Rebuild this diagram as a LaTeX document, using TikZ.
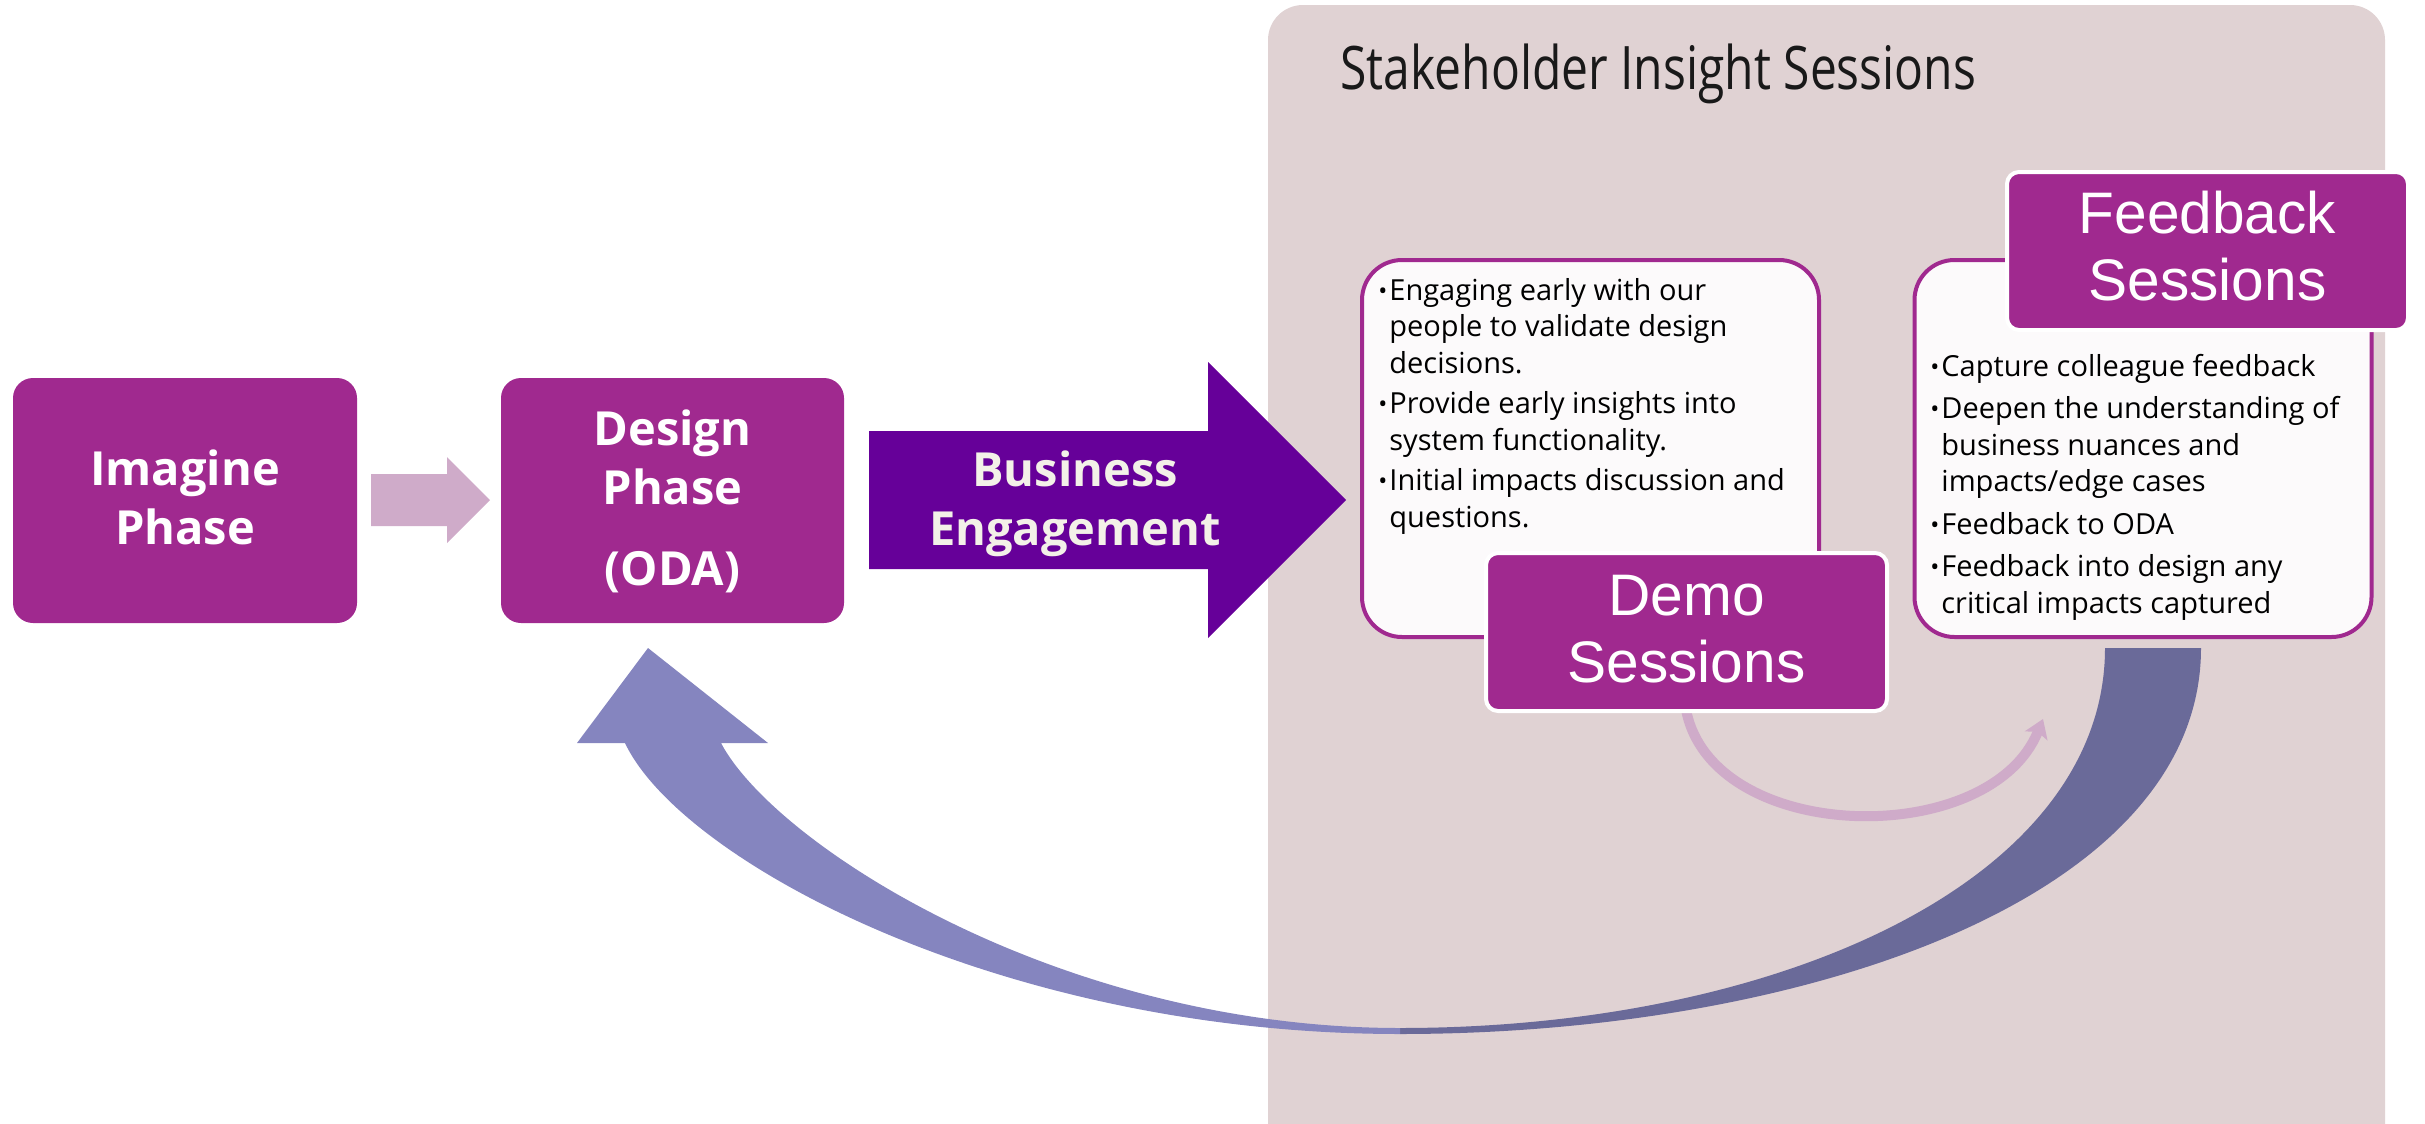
\documentclass[tikz,border=0pt]{standalone}
\usepackage{fontspec}
\setmainfont{Open Sans}
\newfontfamily\labelfont{Liberation Sans}
\newfontfamily\titlefont[FakeStretch=0.8]{Open Sans}
\usetikzlibrary{arrows.meta}

\definecolor{panelgrey}{HTML}{E0D2D3}
\definecolor{phasemagenta}{HTML}{A0298F}
\definecolor{engagepurple}{HTML}{660099}
\definecolor{softpink}{HTML}{CFABC9}
\definecolor{loopleft}{HTML}{8585BF}
\definecolor{loopright}{HTML}{6A6A99}
\definecolor{cardfill}{HTML}{FCFAFB}
\definecolor{offwhite}{HTML}{F3F1E8}

\newcommand{\bulletmark}{\makebox[5.5pt][l]{\raisebox{0.4pt}{\fontsize{12}{12}\selectfont •}}}
\newcommand{\hangin}{\hspace*{5.5pt}}

\begin{document}
\begin{tikzpicture}[x=0.5pt,y=-0.5pt,
  phasebox/.style={fill=phasemagenta, rounded corners=10pt, minimum height=122.5pt, inner sep=0pt},
  phasetext/.style={text=white, font=\fontsize{23.5}{29.5}\selectfont\bfseries, align=center, inner sep=0pt},
  card/.style={fill=cardfill, draw=phasemagenta, line width=2pt, rounded corners=20pt, minimum width=228.5pt, minimum height=188.5pt, inner sep=0pt},
  sessionbox/.style={fill=phasemagenta, draw=white, line width=2pt, rounded corners=6pt, minimum width=200.5pt, minimum height=79pt, inner sep=0pt},
  sessiontext/.style={text=white, font=\labelfont\fontsize{29.3}{33.5}\selectfont, align=center, inner sep=0pt},
  bodytext/.style={text=black, font=\fontsize{14.5}{18.25}\selectfont, align=left, inner sep=0pt},
  pinkarrow/.style={draw=softpink, line width=5pt, -{Stealth[length=9pt,width=12pt,inset=2pt]}}
]
\useasboundingbox (0,0) rectangle (2425,1124);
\clip (0,0) rectangle (2425,1124);

% grey panel behind the sessions
\fill[panelgrey, rounded corners=17.5pt] (1268,5) rectangle (2385,1170);
\node[anchor=base west, inner sep=0pt, font=\titlefont\fontsize{30}{36}\selectfont, text=black!90] (panel-title) at (1340,89) {Stakeholder Insight Sessions};

% phase boxes (multi-line labels are placed by the baseline of their last line)
\node[phasebox, minimum width=172pt] (imagine) at (185,500.5) {};
\node[phasetext, anchor=base] (imagine-t) at (185,544) {Imagine\\Phase};
\node[phasebox, minimum width=171.5pt] (design) at (672.5,500.5) {};
\node[phasetext, anchor=base] (design-t) at (672.5,504) {Design\\Phase};
\node[phasetext, anchor=base] (design-oda) at (672.5,585) {(ODA)};

% small arrow between the phases
\fill[softpink] (371,474) -- (447,474) -- (447,457) -- (490,500) -- (447,543) -- (447,526) -- (371,526) -- cycle;

% business engagement block arrow
\fill[engagepurple] (869,431) -- (1208,431) -- (1208,362) -- (1346,500) -- (1208,638) -- (1208,569) -- (869,569) -- cycle;
\node[phasetext, text=offwhite, anchor=base] (engage-t) at (1075,545) {Business\\Engagement};

% feedback loop back to the design phase
\fill[loopright] (2201,648) .. controls (2201,900) and (1800,1034) .. (1400,1034)
  -- (1400,1028) .. controls (1780,1028) and (2105,880) .. (2105,648) -- cycle;
\fill[loopleft] (1400,1034) .. controls (1000,1034) and (680,860) .. (625,743)
  -- (577,743) -- (648,648) -- (768,743) -- (721,743)
  .. controls (775,845) and (1060,1028) .. (1400,1028) -- cycle;

% demo sessions
\node[card] (demo-card) at (1590.5,448.5) {};
\node[bodytext, anchor=base west] (demo-body) at (1378,527) {%
\bulletmark Engaging early with our\\
\hangin people to validate design\\
\hangin decisions.\\[2pt]
\bulletmark Provide early insights into\\
\hangin system functionality.\\[2pt]
\bulletmark Initial impacts discussion and\\
\hangin questions.};

% feedback sessions
\node[card] (feedback-card) at (2143,448.5) {};
\node[bodytext, anchor=base west] (feedback-body) at (1930,613) {%
\bulletmark Capture colleague feedback\\[3pt]
\bulletmark Deepen the understanding of\\
\hangin business nuances and\\
\hangin impacts/edge cases\\[3pt]
\bulletmark Feedback to ODA\\[3pt]
\bulletmark Feedback into design any\\
\hangin critical impacts captured};

% arrow from demo to feedback
\coordinate (pink-end) at (2043,719);
\draw[pinkarrow] (1686.5,712) .. controls (1715,845) and (1990,850) .. (pink-end);

% session labels
\node[sessionbox] (demo-l) at (1686.5,632) {};
\node[sessiontext, anchor=base] (demo-lt) at (1686.5,682) {Demo\\Sessions};
\node[sessionbox] (feedback-l) at (2207.5,251) {};
\node[sessiontext, anchor=base] (feedback-lt) at (2207.5,300) {Feedback\\Sessions};
\end{tikzpicture}
\end{document}
